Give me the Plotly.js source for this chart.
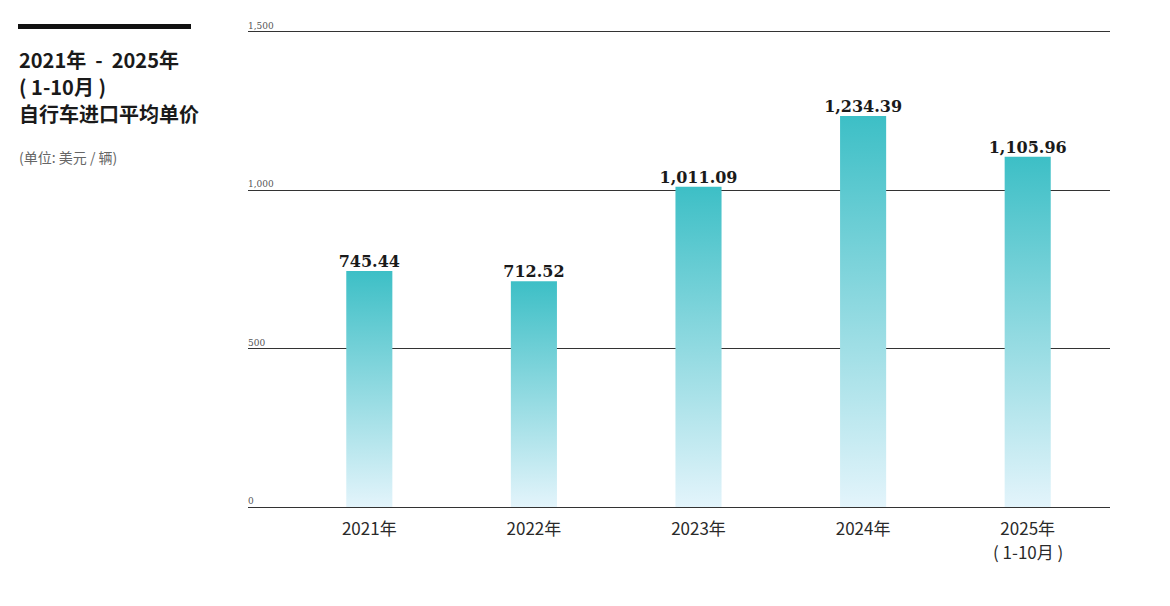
<!DOCTYPE html>
<html>
<head>
<meta charset="utf-8">
<script src="https://cdn.plot.ly/plotly-3.0.1.min.js"></script>
<style>html,body{margin:0;padding:0;background:#fff;}#chart{width:1170px;height:606px;}</style>
</head>
<body>
<div id="chart"></div>
<script>
// ---- data ----
const categories = ["2021年", "2022年", "2023年", "2024年", "2025年"];
const categoryNotes = ["", "", "", "", "( 1-10月 )"];
const values = [745.44, 712.52, 1011.09, 1234.39, 1105.96];
const valueLabels = ["745.44", "712.52", "1,011.09", "1,234.39", "1,105.96"];
const yTicks = [0, 500, 1000, 1500];
const yTickLabels = ["0", "500", "1,000", "1,500"];

// ---- layout helpers ----
const W = 1170, H = 606;
const M = {l: 248, r: 60, t: 30, b: 99};
const plotW = W - M.l - M.r, plotH = H - M.t - M.b;
const px = x => (x - M.l) / plotW;          // pixel -> paper x
const py = y => 1 - (y - M.t) / plotH;      // pixel -> paper y

const barW = 0.28;
const idx = categories.map((_, i) => i);

const traces = values.map((v, i) => ({
  type: "scatter",
  mode: "lines",
  x: [i - barW / 2, i + barW / 2, i + barW / 2, i - barW / 2, i - barW / 2],
  y: [0, 0, v, v, 0],
  fill: "toself",
  line: {width: 0, color: "rgba(0,0,0,0)"},
  fillcolor: "#7fd0d6",
  fillgradient: {type: "vertical", colorscale: [[0, "#e3f4fb"], [1, "#3dbfc6"]]},
  hoverinfo: "skip",
  showlegend: false
}));

traces.push({
  type: "scatter",
  mode: "text",
  x: idx,
  y: values,
  text: valueLabels,
  textposition: "top center",
  textfont: {family: "DejaVu Serif", size: 16, color: "#1a1a1a", weight: "bold"},
  hoverinfo: "skip",
  showlegend: false
});

const titleAnn = [
  {text: "<b>2021年  -  2025年</b>", x: px(17), y: py(60)},
  {text: "<b>( 1-10月 )</b>", x: px(17), y: py(87)},
  {text: "<b>自行车进口平均单价</b>", x: px(17), y: py(114)}
].map(a => Object.assign({xref: "paper", yref: "paper", showarrow: false,
    xanchor: "left", yanchor: "middle",
    font: {family: "Noto Sans CJK SC", size: 20, color: "#1a1a1a"}}, a));

const subAnn = {
  text: "(单位: 美元 / 辆)", xref: "paper", yref: "paper", showarrow: false,
  x: px(17), y: py(157), xanchor: "left", yanchor: "middle",
  font: {family: "Noto Sans CJK SC", size: 14, color: "#666"}
};

const yLabelAnn = yTicks.map((t, i) => ({
  text: yTickLabels[i], xref: "paper", yref: "y", x: 0, y: t,
  xanchor: "left", yanchor: "bottom", showarrow: false, xshift: -2, yshift: -1,
  font: {family: "DejaVu Serif", size: 9, color: "#555"}
}));

const noteAnn = categoryNotes.map((n, i) => ({text: n, i})).filter(o => o.text).map(o => ({
  text: o.text, xref: "x", yref: "paper", x: o.i, y: py(551),
  xanchor: "center", yanchor: "middle", showarrow: false,
  font: {family: "Noto Sans CJK SC", size: 17, color: "#2a2a2a"}
}));

const layout = {
  width: W, height: H,
  margin: M,
  paper_bgcolor: "#fff",
  plot_bgcolor: "#fff",
  showlegend: false,
  xaxis: {
    range: [-0.737, 4.5],
    tickvals: idx,
    ticktext: categories,
    showgrid: false,
    zeroline: false,
    showline: false,
    ticks: "",
    ticklabelstandoff: 10,
    tickfont: {family: "Noto Sans CJK SC", size: 17, color: "#2a2a2a"}
  },
  yaxis: {
    range: [0, 1506],
    tickvals: yTicks,
    showticklabels: false,
    showgrid: true,
    gridcolor: "#333",
    gridwidth: 1,
    zeroline: true,
    zerolinecolor: "#333",
    zerolinewidth: 1,
    showline: false,
    ticks: "",
    fixedrange: true
  },
  shapes: [{
    type: "rect", xref: "paper", yref: "paper",
    x0: px(18), x1: px(191), y0: py(29), y1: py(24),
    fillcolor: "#111", line: {width: 0}
  }],
  annotations: titleAnn.concat([subAnn], yLabelAnn, noteAnn)
};

Plotly.newPlot("chart", traces, layout, {displayModeBar: false, staticPlot: true});
</script>
</body>
</html>
